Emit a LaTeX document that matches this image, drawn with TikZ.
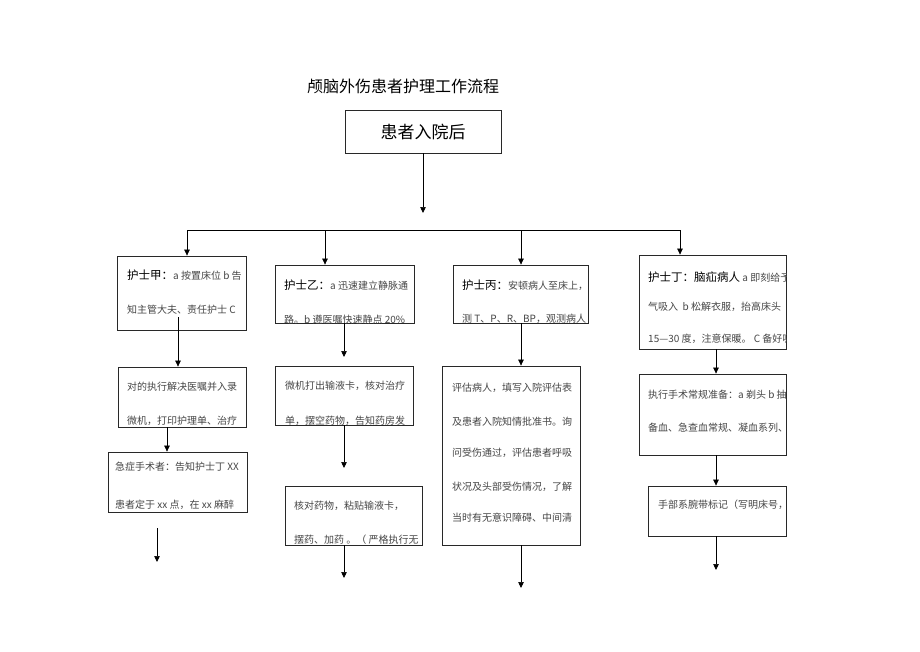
\documentclass[tikz,border=0pt]{standalone}
\usepackage{fontspec}
\newfontfamily\cjk{Noto Sans CJK SC}
\usetikzlibrary{arrows.meta}
\definecolor{boxc}{RGB}{40,40,40}
\definecolor{bodyc}{RGB}{70,70,70}
\newcommand{\lbl}[1]{{\fontsize{11.5}{13}\selectfont\color{black}#1}}
\begin{document}
\begin{tikzpicture}[x=1pt,y=-1pt,
  box/.style={draw=boxc, line width=0.8pt, inner sep=0pt, fill=none},
  arr/.style={draw=black, line width=0.7pt, -{Triangle[length=6pt,width=5.5pt]}},
  ln/.style={draw=black, line width=0.7pt},
  body/.style={anchor=west, inner sep=0pt, font=\cjk\fontsize{10}{12}\selectfont, text=bodyc}
]
\useasboundingbox[fill=white] (0,0) rectangle (920,651);

% title
\node[font=\cjk\fontsize{16}{18}\selectfont, text=black] (title) at (403,86) {颅脑外伤患者护理工作流程};

% boxes
\node[box, minimum width=156pt, minimum height=43pt, font=\cjk\fontsize{17}{19}\selectfont] (b0) at (423,131.5) {患者入院后};
\node[box, minimum width=129pt, minimum height=74pt] (b1) at (181.5,293) {};
\node[box, minimum width=139pt, minimum height=58pt] (b2) at (344.5,294) {};
\node[box, minimum width=135pt, minimum height=58pt] (b3) at (520.5,294) {};
\node[box, minimum width=147pt, minimum height=94pt] (b4) at (712.5,302) {};
\node[box, minimum width=128pt, minimum height=60pt] (b1a) at (182,397) {};
\node[box, minimum width=139pt, minimum height=60pt] (b1c) at (177.5,482) {};
\node[box, minimum width=138pt, minimum height=59pt] (b2a) at (344,395.5) {};
\node[box, minimum width=137pt, minimum height=59pt] (b2c) at (353.5,515.5) {};
\node[box, minimum width=138pt, minimum height=179pt] (b3a) at (511,455.5) {};
\node[box, minimum width=147pt, minimum height=81pt] (b4a) at (712.5,414.5) {};
\node[box, minimum width=138pt, minimum height=50pt] (b4c) at (717,511) {};

% texts (clipped to their boxes)
\begin{scope}
\clip (b1.north west) rectangle (b1.south east);
\node[body] (t1a) at (127,275) {\lbl{护士甲：}a 按置床位 b 告};
\node[body] (t1b) at (127,310) {知主管大夫、责任护士 C};
\end{scope}
\begin{scope}
\clip (b2.north west) rectangle (b2.south east);
\node[body] (t2a) at (284,285) {\lbl{护士乙：}a 迅速建立静脉通};
\node[body] (t2b) at (284,320) {路。b 遵医嘱快速静点 20\%};
\end{scope}
\begin{scope}
\clip (b3.north west) rectangle (b3.south east);
\node[body] (t3a) at (462,285) {\lbl{护士丙：}安顿病人至床上，};
\node[body] (t3b) at (462,319) {测 T、P、R、BP，观测病人};
\end{scope}
\begin{scope}
\clip (b4.north west) rectangle (b4.south east);
\node[body] (t4a) at (648,277) {\lbl{护士丁：脑疝病人} a 即刻给予氧};
\node[body] (t4b) at (648,307) {气吸入 \ b 松解衣服，抬高床头};
\node[body] (t4c) at (648,339) {15—30 度，注意保暖。 C 备好吸痰};
\end{scope}
\begin{scope}
\clip (b1a.north west) rectangle (b1a.south east);
\node[body] (t5a) at (127,387) {对的执行解决医嘱并入录};
\node[body] (t5b) at (127,421) {微机，打印护理单、治疗};
\end{scope}
\begin{scope}
\clip (b2a.north west) rectangle (b2a.south east);
\node[body] (t6a) at (285,386) {微机打出输液卡，核对治疗};
\node[body] (t6b) at (285,421) {单，摆空药物，告知药房发};
\end{scope}
\begin{scope}
\clip (b1c.north west) rectangle (b1c.south east);
\node[body] (t7a) at (115,467) {急症手术者：告知护士丁 XX};
\node[body] (t7b) at (115,505) {患者定于 xx 点，在 xx 麻醉};
\end{scope}
\begin{scope}
\clip (b2c.north west) rectangle (b2c.south east);
\node[body] (t8a) at (294,506) {核对药物，粘贴输液卡，};
\node[body] (t8b) at (294,540) {摆药、加药 。（ 严格执行无};
\end{scope}
\begin{scope}
\clip (b3a.north west) rectangle (b3a.south east);
\node[body] (t9a) at (452,388) {评估病人，填写入院评估表};
\node[body] (t9b) at (452,422) {及患者入院知情批准书。询};
\node[body] (t9c) at (452,453) {问受伤通过，评估患者呼吸};
\node[body] (t9d) at (452,487) {状况及头部受伤情况，了解};
\node[body] (t9e) at (452,518) {当时有无意识障碍、中间清};
\end{scope}
\begin{scope}
\clip (b4a.north west) rectangle (b4a.south east);
\node[body] (t10a) at (648,395) {执行手术常规准备：a 剃头 b 抽血、};
\node[body] (t10b) at (648,428) {备血、急查血常规、凝血系列、心};
\end{scope}
\begin{scope}
\clip (b4c.north west) rectangle (b4c.south east);
\node[body] (t11a) at (658,505) {手部系腕带标记（写明床号，姓};
\end{scope}

% connector coordinates
\coordinate (m0) at (423,213);
\coordinate (h1) at (187,230);
\coordinate (h2) at (325,230);
\coordinate (h3) at (521,230);
\coordinate (h4) at (680,230);
\coordinate (s1) at (178,317);
\coordinate (s1a) at (167,427);
\coordinate (s1c) at (157,528);
\coordinate (e1c) at (157,562);
\coordinate (s2) at (344,323);
\coordinate (e2) at (344,357);
\coordinate (e2a) at (344,468);
\coordinate (e2c) at (344,578);
\coordinate (s3) at (521,323);
\coordinate (e3a) at (521,588);
\coordinate (s4) at (716,349);
\coordinate (e4c) at (716,570);

% connectors
\draw[arr] (b0.south) -- (m0);
\draw[ln] (h1) -- (h4);
\draw[arr] (h1) -- (h1 |- b1.north);
\draw[arr] (h2) -- (h2 |- b2.north);
\draw[arr] (h3) -- (h3 |- b3.north);
\draw[arr] (h4) -- (h4 |- b4.north);

\draw[arr] (s1) -- (s1 |- b1a.north);
\draw[arr] (s1a) -- (s1a |- b1c.north);
\draw[arr] (s1c) -- (e1c);

\draw[arr] (s2) -- (e2);
\draw[arr] (e2 |- b2a.south) -- (e2a);
\draw[arr] (e2 |- b2c.south) -- (e2c);

\draw[arr] (s3) -- (s3 |- b3a.north);
\draw[arr] (s3 |- b3a.south) -- (e3a);

\draw[arr] (s4) -- (s4 |- b4a.north);
\draw[arr] (s4 |- b4a.south) -- (s4 |- b4c.north);
\draw[arr] (s4 |- b4c.south) -- (e4c);
\end{tikzpicture}
\end{document}
